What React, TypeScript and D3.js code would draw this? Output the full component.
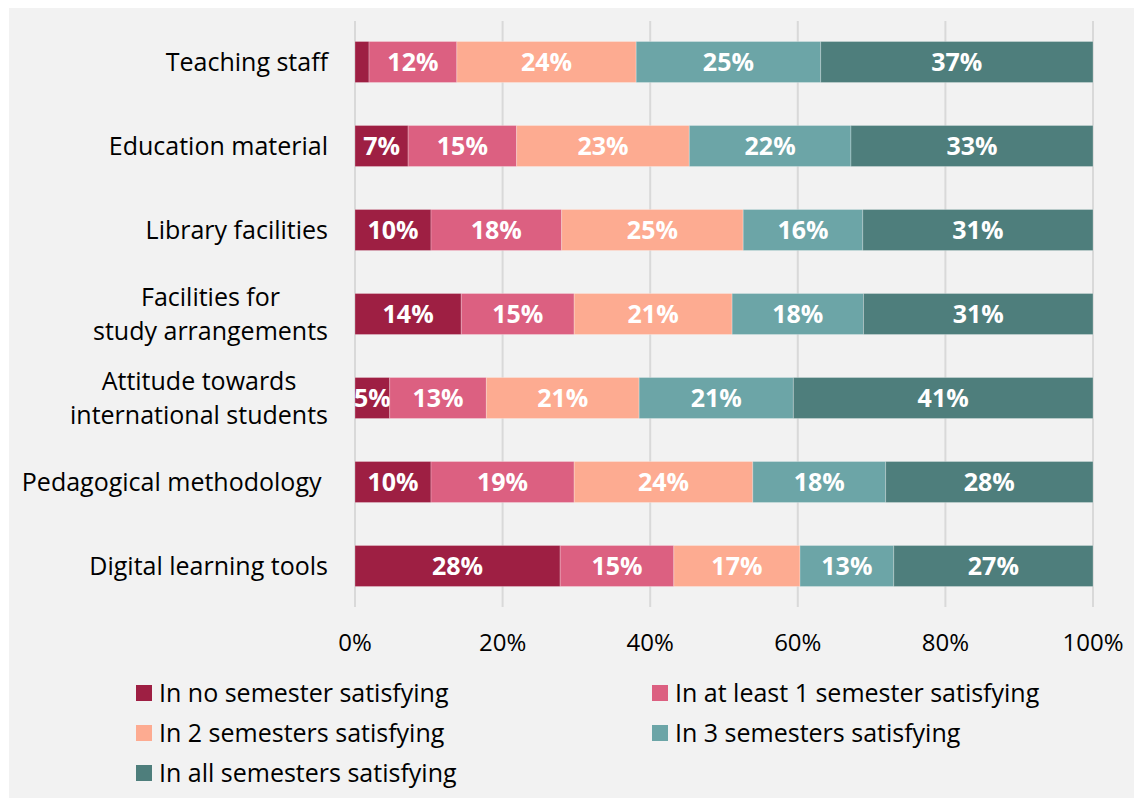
import React, { useEffect, useRef } from "react";
import * as d3 from "d3";

const categories = [
  "Teaching staff",
  "Education material",
  "Library facilities",
  "Facilities for\nstudy arrangements",
  "Attitude towards\ninternational students",
  "Pedagogical methodology ",
  "Digital learning tools",
];

const seriesNames = [
  "In no semester satisfying",
  "In at least 1 semester satisfying",
  "In 2 semesters satisfying",
  "In 3 semesters satisfying",
  "In all semesters satisfying",
];

const noSemester = [1.9, 7.2, 10.3, 14.4, 4.7, 10.3, 27.8];
const atLeastOne = [11.9, 14.7, 17.7, 15.3, 13.1, 19.4, 15.4];
const twoSemesters = [24.3, 23.4, 24.6, 21.4, 20.7, 24.2, 17.1];
const threeSemesters = [25.0, 21.9, 16.2, 17.8, 20.9, 18.0, 12.7];
const allSemesters = [36.9, 32.8, 31.2, 31.1, 40.6, 28.1, 27.0];

const colors = ["#9e1f43", "#dc6081", "#fdab91", "#6ca5a7", "#4e7e7c"];
const xTicks = [0, 20, 40, 60, 80, 100];

const W = 1134;
const H = 798;
const FONT = "'Open Sans', sans-serif";
const FS = 25;

export default function App() {
  const ref = useRef<SVGSVGElement | null>(null);

  useEffect(() => {
    const svg = d3.select(ref.current);
    svg.selectAll("*").remove();

    const series = [noSemester, atLeastOne, twoSemesters, threeSemesters, allSemesters];
    const rows = categories.map((c, i) => {
      const r: any = { cat: c };
      seriesNames.forEach((s, j) => (r[s] = series[j][i]));
      return r;
    });
    const stacked = d3.stack<any>().keys(seriesNames)(rows);

    const x = d3.scaleLinear().domain([0, 100]).range([355, 1093]);
    const y = d3.scaleBand().domain(categories).range([20, 608]).paddingInner(0.512).paddingOuter(0.256);

    svg.append("rect").attr("x", 9).attr("y", 8).attr("width", W - 9).attr("height", H - 8).attr("fill", "#f2f2f2");

    // gridlines
    svg
      .append("g")
      .selectAll("line")
      .data(xTicks)
      .join("line")
      .attr("x1", (d) => x(d))
      .attr("x2", (d) => x(d))
      .attr("y1", 21)
      .attr("y2", 607)
      .attr("stroke", "#d9d9d9")
      .attr("stroke-width", 2);

    // tick labels
    svg
      .append("g")
      .selectAll("text")
      .data(xTicks)
      .join("text")
      .attr("x", (d) => x(d))
      .attr("y", 643)
      .attr("dy", "0.35em")
      .attr("text-anchor", "middle")
      .attr("font-family", FONT)
      .attr("font-size", 24)
      .attr("fill", "#000")
      .text((d) => `${d}%`);

    // bars
    const layers = svg.append("g").selectAll("g").data(stacked).join("g").attr("fill", (_d, i) => colors[i]);
    layers
      .selectAll("rect")
      .data((d) => d.map((p) => ({ p, cat: p.data.cat })))
      .join("rect")
      .attr("x", (d) => x(d.p[0]))
      .attr("width", (d) => x(d.p[1]) - x(d.p[0]))
      .attr("y", (d) => y(d.cat)!)
      .attr("height", y.bandwidth())
      .attr("stroke", "rgba(255,255,255,0.25)")
      .attr("stroke-width", 1);

    // data labels
    layers
      .selectAll("text")
      .data((d) => d.map((p) => ({ p, cat: p.data.cat, v: p[1] - p[0] })).filter((d) => Math.round(d.v) >= 3))
      .join("text")
      .attr("x", (d) => (x(d.p[0]) + x(d.p[1])) / 2)
      .attr("y", (d) => y(d.cat)! + y.bandwidth() / 2)
      .attr("dy", "0.36em")
      .attr("text-anchor", "middle")
      .attr("font-family", FONT)
      .attr("font-size", FS)
      .attr("font-weight", "bold")
      .attr("fill", "#fff")
      .text((d) => `${Math.round(d.v)}%`);

    // category labels
    const catG = svg.append("g");
    categories.forEach((c) => {
      const lines = c.split("\n");
      const cy = y(c)! + y.bandwidth() / 2;
      const lh = 33.5;
      const t = catG
        .append("text")
        .attr("font-family", FONT)
        .attr("font-size", FS)
        .attr("fill", "#000")
        .style("white-space", "pre");
      const tspans = lines.map((ln, k) =>
        t
          .append("tspan")
          .attr("y", cy + (k - (lines.length - 1) / 2) * lh)
          .attr("dy", "0.35em")
          .text(ln)
      );
      const widths = tspans.map((ts) => (ts.node() as SVGTSpanElement).getComputedTextLength());
      const maxW = Math.max(...widths);
      const right = 328;
      const center = right - maxW / 2;
      tspans.forEach((ts) => ts.attr("x", center).attr("text-anchor", "middle"));
    });

    // legend
    const legendItems = [
      { name: seriesNames[0], color: colors[0], x: 136, y: 693 },
      { name: seriesNames[1], color: colors[1], x: 652, y: 693 },
      { name: seriesNames[2], color: colors[2], x: 136, y: 733 },
      { name: seriesNames[3], color: colors[3], x: 652, y: 733 },
      { name: seriesNames[4], color: colors[4], x: 136, y: 773 },
    ];
    const lg = svg.append("g").selectAll("g").data(legendItems).join("g");
    lg.append("rect")
      .attr("x", (d) => d.x)
      .attr("y", (d) => d.y - 8)
      .attr("width", 16)
      .attr("height", 16)
      .attr("fill", (d) => d.color);
    lg.append("text")
      .attr("x", (d) => d.x + 23)
      .attr("y", (d) => d.y)
      .attr("dy", "0.35em")
      .attr("font-family", FONT)
      .attr("font-size", FS)
      .attr("fill", "#000")
      .text((d) => d.name);
  }, []);

  return (
    <svg
      ref={ref}
      width={W}
      height={H}
      style={{ position: "absolute", left: 0, top: 0, display: "block" }}
    />
  );
}
